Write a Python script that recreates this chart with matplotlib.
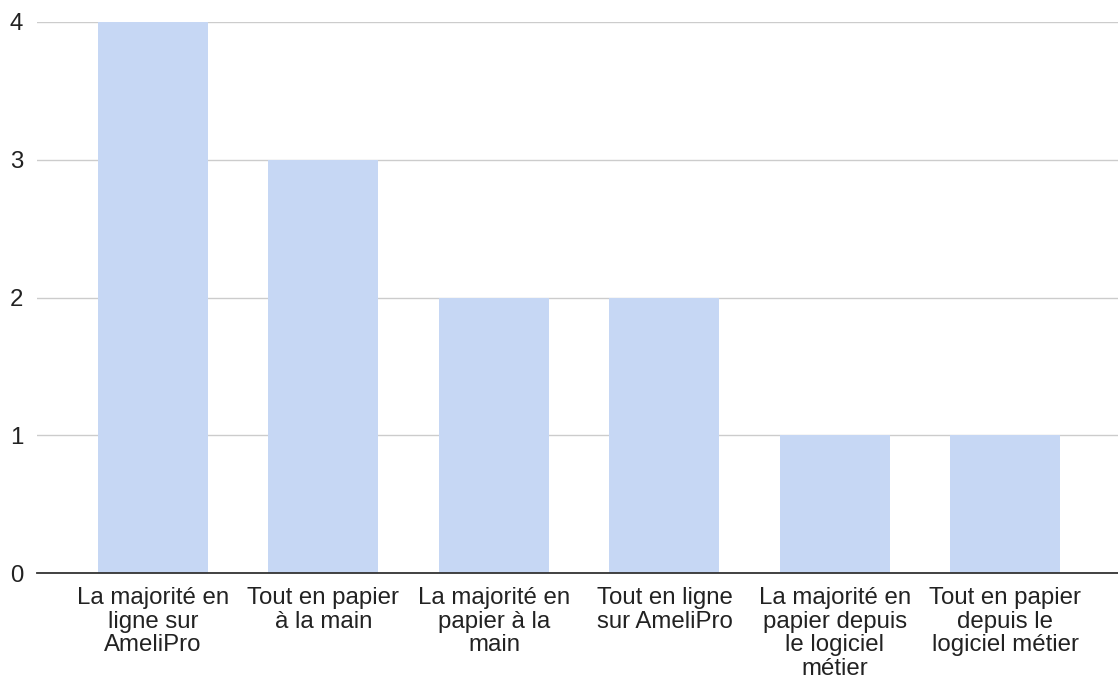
import matplotlib.pyplot as plt
import numpy as np

plt.rcParams['font.family'] = ['Liberation Sans', 'DejaVu Sans']

categories = [
    "La majorité en\nligne sur\nAmeliPro",
    "Tout en papier\nà la main",
    "La majorité en\npapier à la\nmain",
    "Tout en ligne\nsur AmeliPro",
    "La majorité en\npapier depuis\nle logiciel\nmétier",
    "Tout en papier\ndepuis le\nlogiciel métier",
]
counts = [4, 3, 2, 2, 1, 1]
yticks = [0, 1, 2, 3, 4]

fig = plt.figure(figsize=(11.18, 6.8), dpi=100)
ax = fig.add_axes([37 / 1118, 1 - 573 / 680, 1081 / 1118, 551 / 680])

xs = np.arange(len(categories))
ax.bar(xs, counts, width=0.645, color="#c6d7f4", zorder=2)

ax.set_xlim(-0.68, 5.66)
ax.set_ylim(0, 4)
ax.set_yticks(yticks)
ax.set_xticks(xs)
ax.set_xticklabels(categories, fontsize=17.3, linespacing=1.1, color="#222222")
ax.tick_params(axis='y', labelsize=17.3, length=0, pad=10, labelcolor="#222222")
ax.tick_params(axis='x', length=0, pad=10)
ax.grid(axis='y', color="#cccccc", linewidth=1, zorder=0)

for side in ["top", "right", "left"]:
    ax.spines[side].set_visible(False)
ax.spines["bottom"].set_color("#333333")
ax.spines["bottom"].set_linewidth(1.3)
ax.spines["bottom"].set_zorder(3)

fig.savefig("out.png", dpi=100)
